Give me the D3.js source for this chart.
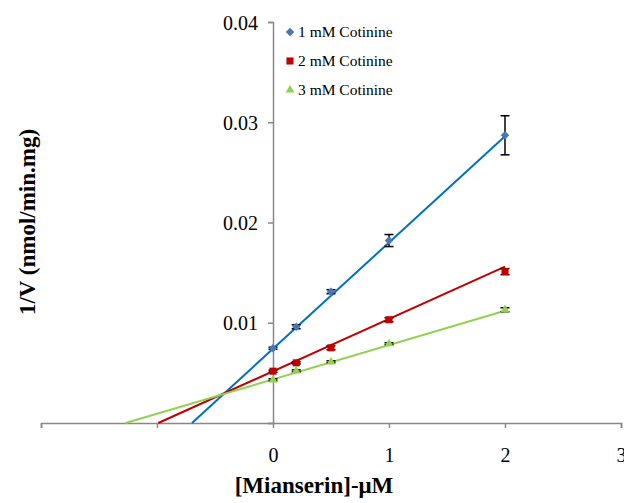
<!DOCTYPE html>
<html>
<head>
<meta charset="utf-8">
<script src="https://cdn.jsdelivr.net/npm/d3@7"></script>
<style>
  body { margin: 0; background: #fff; }
  svg { font-family: 'Liberation Serif', 'Times New Roman', serif; }
</style>
</head>
<body>
<svg id="chart" width="624" height="503"></svg>
<script>
// Mianserin concentrations (uM)
var conc = [0, 0.2, 0.5, 1, 2];
var seriesNames = ['1 mM Cotinine', '2 mM Cotinine', '3 mM Cotinine'];
// 1/V values per series
var cot1 = [0.00746, 0.0096, 0.0131, 0.0182, 0.0287];
var cot2 = [0.00517, 0.0060, 0.0075, 0.0103, 0.0151];
var cot3 = [0.0043, 0.0052, 0.0061, 0.0079, 0.0113];
// error bar half-widths
var err1 = [0.0001, 0.0002, 0.0002, 0.0006, 0.00195];
var err2 = [0.0001, 0.0001, 0.0002, 0.0002, 0.0003];
var err3 = [0.0001, 0.0001, 0.0001, 0.0001, 0.0002];
// linear trendlines as drawn (slope, intercept)
var trendSlope = [0.0106, 0.00522, 0.003425];
var trendIntercept = [0.0074, 0.00516, 0.00435];
var xTicks = [-2, -1, 0, 1, 2, 3];
var xTickLabels = ['', '', '0', '1', '2', '3'];
var yTicks = [0, 0.01, 0.02, 0.03, 0.04];
var yTickLabels = ['', '0.01', '0.02', '0.03', '0.04'];

var values = [cot1, cot2, cot3],
    errors = [err1, err2, err3],
    lineColors = ['#0070c0', '#c00000', '#92d050'],
    markColors = ['#4a76b8', '#c00000', '#92d050'],
    markShapes = [d3.symbolSquare, d3.symbolSquare, d3.symbolTriangle],
    markRotate = [45, 0, 0],
    markSizes = [36, 50, 34],
    axisColor = '#888888';

var svg = d3.select('#chart');

var x = d3.scaleLinear().domain([-2, 3]).range([41, 621]);
var y = d3.scaleLinear().domain([0, 0.04]).range([423, 22]);

// x axis at y = 0
var xAxis = d3.axisBottom(x)
  .tickValues(xTicks)
  .tickSize(5)
  .tickFormat(function (d, i) { return xTickLabels[i]; });
var gx = svg.append('g')
  .attr('transform', 'translate(0,' + y(0) + ')')
  .call(xAxis)
  .attr('font-family', null)
  .attr('font-size', 20);
gx.select('.domain').attr('stroke', axisColor).attr('stroke-width', 1.5);
gx.selectAll('.tick line').attr('stroke', axisColor).attr('stroke-width', 1.5);
gx.selectAll('.tick text')
  .attr('fill', '#000')
  .attr('dy', null)
  .attr('y', 39);

// y axis at x = 0
var yAxis = d3.axisLeft(y)
  .tickValues(yTicks)
  .tickSize(5)
  .tickFormat(function (d, i) { return yTickLabels[i]; });
var gy = svg.append('g')
  .attr('transform', 'translate(' + x(0) + ',0)')
  .call(yAxis)
  .attr('font-family', null)
  .attr('font-size', 20);
gy.select('.domain').attr('stroke', axisColor).attr('stroke-width', 1.5);
gy.selectAll('.tick line').attr('stroke', axisColor).attr('stroke-width', 1.5);
gy.selectAll('.tick text')
  .attr('fill', '#000')
  .attr('x', -15)
  .attr('dy', '0.35em');

// trendlines, clipped where they cross y = 0
seriesNames.forEach(function (name, i) {
  var x0 = Math.max(-2, -trendIntercept[i] / trendSlope[i]),
      x1 = d3.max(conc);
  svg.append('path')
    .datum([x0, x1])
    .attr('fill', 'none')
    .attr('stroke', lineColors[i])
    .attr('stroke-width', 2)
    .attr('d', d3.line()
      .x(function (d) { return x(d); })
      .y(function (d) { return y(trendSlope[i] * d + trendIntercept[i]); }));
});

// error bars and markers
seriesNames.forEach(function (name, i) {
  var g = svg.append('g');
  var pts = conc.map(function (c, j) {
    return {x: c, y: values[i][j], e: errors[i][j]};
  });
  var eb = g.selectAll('g.err').data(pts).enter().append('g')
    .attr('stroke', '#000')
    .attr('stroke-width', 1.5);
  eb.append('line')
    .attr('x1', function (d) { return x(d.x); })
    .attr('x2', function (d) { return x(d.x); })
    .attr('y1', function (d) { return y(d.y - d.e); })
    .attr('y2', function (d) { return y(d.y + d.e); });
  [-1, 1].forEach(function (s) {
    eb.append('line')
      .attr('x1', function (d) { return x(d.x) - 4.5; })
      .attr('x2', function (d) { return x(d.x) + 4.5; })
      .attr('y1', function (d) { return y(d.y + s * d.e); })
      .attr('y2', function (d) { return y(d.y + s * d.e); });
  });
  g.selectAll('path.mark').data(pts).enter().append('path')
    .attr('class', 'mark')
    .attr('d', d3.symbol().type(markShapes[i]).size(markSizes[i]))
    .attr('transform', function (d) {
      return 'translate(' + x(d.x) + ',' + y(d.y) + ') rotate(' + markRotate[i] + ')';
    })
    .attr('fill', markColors[i]);
});

// legend
var legend = svg.append('g');
seriesNames.forEach(function (name, i) {
  var ly = 32 + i * 29;
  legend.append('path')
    .attr('d', d3.symbol().type(markShapes[i]).size(markSizes[i]))
    .attr('transform', 'translate(290,' + ly + ') rotate(' + markRotate[i] + ')')
    .attr('fill', markColors[i]);
  legend.append('text')
    .attr('x', 298)
    .attr('y', ly + 5)
    .attr('font-size', 15.5)
    .text(name);
});

// axis titles
svg.append('text')
  .attr('x', 314)
  .attr('y', 493)
  .attr('text-anchor', 'middle')
  .attr('font-size', 23)
  .attr('font-weight', 'bold')
  .text('[Mianserin]-μM');

svg.append('text')
  .attr('transform', 'translate(35,222) rotate(-90)')
  .attr('text-anchor', 'middle')
  .attr('font-size', 23)
  .attr('font-weight', 'bold')
  .text('1/V (nmol/min.mg)');
</script>
</body>
</html>
